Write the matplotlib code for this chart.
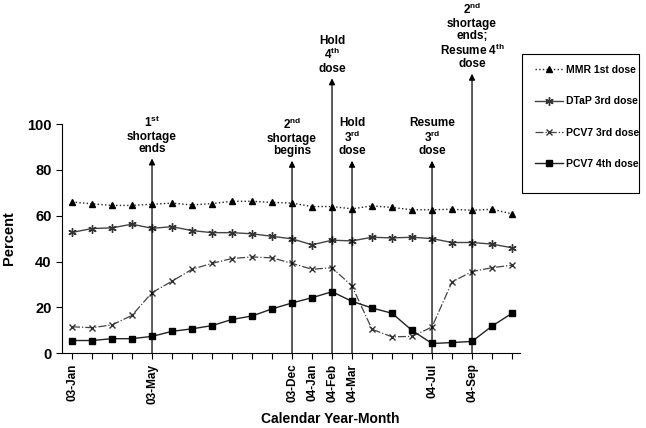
import numpy as np
import matplotlib
matplotlib.use("Agg")
import matplotlib.pyplot as plt
from matplotlib.patches import Rectangle

plt.rcParams['font.family'] = ['Liberation Sans', 'DejaVu Sans']
plt.rcParams['font.weight'] = 'bold'
plt.rcParams['mathtext.fontset'] = 'custom'
plt.rcParams['mathtext.rm'] = 'Liberation Sans:bold'
plt.rcParams['mathtext.it'] = 'Liberation Sans:bold'
plt.rcParams['mathtext.bf'] = 'Liberation Sans:bold'

# meses 03-Jan .. 04-Nov
vtMeses = ['03-Jan', '03-Feb', '03-Mar', '03-Apr', '03-May', '03-Jun', '03-Jul',
           '03-Aug', '03-Sep', '03-Oct', '03-Nov', '03-Dec', '04-Jan', '04-Feb',
           '04-Mar', '04-Apr', '04-May', '04-Jun', '04-Jul', '04-Aug', '04-Sep',
           '04-Oct', '04-Nov']
vtRotulos = ['03-Jan', '03-May', '03-Dec', '04-Jan', '04-Feb', '04-Mar', '04-Jul', '04-Sep']

vtMMR = [66, 65.2, 64.5, 64.5, 65, 65.5, 64.7, 65.3, 66.3, 66.3, 65.8, 65.5,
         64, 64, 63, 64.3, 63.6, 62.6, 62.6, 62.8, 62.4, 62.8, 60.8]
vtDTaP = [52.7, 54.4, 54.7, 56.3, 54.5, 55.2, 53.5, 52.6, 52.6, 52.1, 51, 49.9,
          47.3, 49.3, 49, 50.6, 50.3, 50.6, 50, 48.3, 48.3, 47.6, 46]
vtPCV3 = [11.5, 11.1, 12.3, 16.5, 26.4, 31.4, 36.6, 39.2, 41.3, 42, 41.6, 39.2,
          36.6, 37.3, 29.3, 10.4, 7.1, 7.3, 11.4, 31.1, 35.6, 37.3, 38.4]
vtPCV4 = [5.5, 5.5, 6.3, 6.3, 7.3, 9.5, 10.6, 12, 14.7, 16.2, 19.3, 21.9,
          24.2, 26.8, 22.6, 19.7, 17.4, 9.9, 4.2, 4.6, 5.1, 11.8, 17.4]

# eventos: mes, topo da seta, texto
vtEventos = [
    ('03-May', 85, '1$^{st}$\nshortage\nends'),
    ('03-Dec', 84, '2$^{nd}$\nshortage\nbegins'),
    ('04-Feb', 120, 'Hold\n4$^{th}$\ndose'),
    ('04-Mar', 84, 'Hold\n3$^{rd}$\ndose'),
    ('04-Jul', 84, 'Resume\n3$^{rd}$\ndose'),
    ('04-Sep', 122, '2$^{nd}$\nshortage\nends;\nResume 4$^{th}$\ndose'),
]

x = np.arange(len(vtMeses))

fig = plt.figure(figsize=(6.46, 4.28), dpi=100)
ax = fig.add_axes([0.096, 0.175, 0.709, 0.535])

cor = '#222222'
ax.plot(x, vtMMR, ':', color=cor, lw=1, marker='^', ms=5, mfc='black', mec='black', label='MMR 1st dose')
ax.plot(x, vtDTaP, '-', color='#444444', lw=1, marker=(6, 2, 0), ms=6, mec='#333333', label='DTaP 3rd dose')
ax.plot(x, vtPCV3, '-.', color='#444444', lw=0.9, marker='x', ms=5, mec='#333333', label='PCV7 3rd dose')
ax.plot(x, vtPCV4, '-', color=cor, lw=1, marker='s', ms=4.5, mfc='black', mec='black', label='PCV7 4th dose')

for mes, topo, txt in vtEventos:
    xi = vtMeses.index(mes)
    ax.annotate('', xy=(xi, topo), xytext=(xi, 0),
                arrowprops=dict(arrowstyle='-|>', color='black', lw=0.9,
                                mutation_scale=9, shrinkA=0, shrinkB=0),
                annotation_clip=False)
    ax.text(xi, topo + 1.5, txt, ha='center', va='bottom', fontsize=8.5,
            fontweight='bold', linespacing=1.05, clip_on=False)

ax.set_xlim(-0.5, 22.4)
ax.set_ylim(0, 100)
ax.set_yticks([0, 20, 40, 60, 80, 100])
ax.set_xticks(x)
ax.set_xticklabels([m if m in vtRotulos else '' for m in vtMeses], rotation=90, fontsize=8.5)
ax.tick_params(axis='y', labelsize=10.5, direction='out', length=4)
ax.tick_params(axis='x', direction='out', length=4)
ax.spines['top'].set_visible(False)
ax.spines['right'].set_visible(False)
ax.set_ylabel('Percent', fontsize=10.5, fontweight='bold', labelpad=8)
fig.text(0.511, 0.004, 'Calendar Year-Month', ha='center', va='bottom',
         fontsize=10, fontweight='bold')

# legenda sem moldura + caixa desenhada a parte
leg = fig.legend(loc='upper left', bbox_to_anchor=(0.828, 0.848), fontsize=7.5,
                 frameon=False, labelspacing=2.05, handlelength=2.7,
                 handletextpad=0.3, borderpad=0, borderaxespad=0)
fig.patches.append(Rectangle((0.808, 0.549), 0.181, 0.325, transform=fig.transFigure,
                             fill=False, edgecolor='black', lw=0.8))

fig.savefig('out.png', dpi=100)
